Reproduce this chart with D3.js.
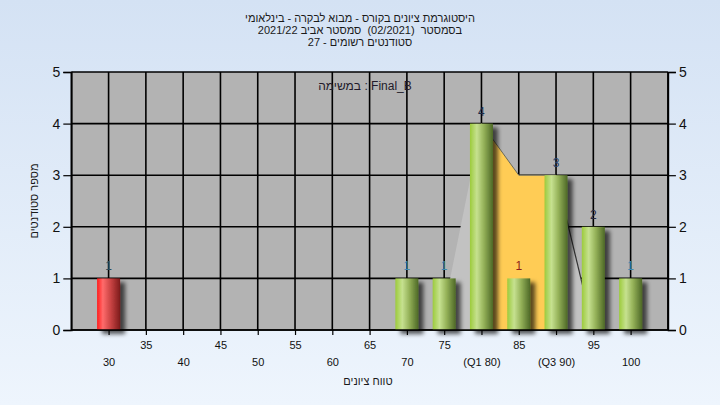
<!DOCTYPE html>
<html><head><meta charset="utf-8">
<script src="https://cdn.jsdelivr.net/npm/d3@7"></script>
<style>
html,body{margin:0;padding:0;overflow:hidden;}
svg text{font-family:"Liberation Sans","DejaVu Sans",Arial,sans-serif;white-space:pre;}
</style></head>
<body><svg id="c" width="720" height="405"></svg>
<script>
// ---- data ----
const titleLines = [
  "היסטוגרמת ציונים בקורס - מבוא לבקרה - בינלאומי",
  "בסמסטר  (02/2021)  סמסטר אביב 2021/22",
  "סטודנטים רשומים - 27"
];
const legendText = "במשימה : Final_B";
const yTitle = "מספר סטודנטים";
const xTitle = "טווח ציונים";
const categories = [30,35,40,45,50,55,60,65,70,75,80,85,90,95,100];
const counts     = [1, 0, 0, 0, 0, 0, 0, 0, 1, 1, 4, 1, 3, 2, 1];
const tickLabels = ["30","35","40","45","50","55","60","65","70","75","(Q1 80)","85","(Q3 90)","95","100"];
const yTicks = [0,1,2,3,4,5];
const iqrX = [80,85,90];
const iqrY = [4,3,3];
const rangeX = [74.4,80,85,90,95];
const rangeY = [0,4,3,3,0];
const failBelow = 55;

// ---- styles ----
const labelColor = {30:"#2c4a5a",70:"#3f88b0",75:"#3f88b0",80:"#1c2c48",85:"#8e1c1c",90:"#24406a",95:"#2a2a40",100:"#3f88b0"};

const svg = d3.select("#c");
const W = 720, H = 405;
const m = {l:71.3, r:720-667.9, t:72, b:405-330};
const defs = svg.append("defs");

const bg = defs.append("linearGradient").attr("id","bg").attr("x1",0).attr("y1",0).attr("x2",0).attr("y2",1);
bg.append("stop").attr("offset","0%").attr("stop-color","#d4e2f4");
bg.append("stop").attr("offset","100%").attr("stop-color","#eef5fd");

const gg = defs.append("linearGradient").attr("id","gGreen").attr("x1",0).attr("y1",0).attr("x2",1).attr("y2",0);
[["0%","#9ccb3c"],["30%","#c6e190"],["60%","#95b259"],["100%","#4d6826"]].forEach(s=>gg.append("stop").attr("offset",s[0]).attr("stop-color",s[1]));
const gr = defs.append("linearGradient").attr("id","gRed").attr("x1",0).attr("y1",0).attr("x2",1).attr("y2",0);
[["0%","#ff1c1c"],["25%","#ff6b6b"],["60%","#c84242"],["100%","#7c1c1c"]].forEach(s=>gr.append("stop").attr("offset",s[0]).attr("stop-color",s[1]));

const f = defs.append("filter").attr("id","sh").attr("x","-20%").attr("y","-20%").attr("width","160%").attr("height","140%");
f.append("feDropShadow").attr("dx",5).attr("dy",4).attr("stdDeviation",2).attr("flood-color","#000").attr("flood-opacity",0.65);

svg.append("rect").attr("width",W).attr("height",H).attr("fill","url(#bg)");

const x = d3.scaleLinear().domain([25,105]).range([m.l, W-m.r]);
const y = d3.scaleLinear().domain([0,5]).range([H-m.b, m.t]);

// plot background
svg.append("rect").attr("x",x(25)).attr("y",y(5)).attr("width",x(105)-x(25)).attr("height",y(0)-y(5)).attr("fill","#b3b3b3");

// grid
const grid = svg.append("g").attr("stroke","#000").attr("stroke-width",1.6);
grid.selectAll("line.h").data(yTicks).join("line").attr("x1",x(25)).attr("x2",x(105)).attr("y1",d=>y(d)).attr("y2",d=>y(d));
grid.selectAll("line.v").data(categories).join("line").attr("x1",d=>x(d)).attr("x2",d=>x(d)).attr("y1",y(5)).attr("y2",y(0));

// range area (light gray)
const rangePts = rangeX.map((v,i)=>[v,rangeY[i]]);
svg.append("path").datum(rangePts)
  .attr("d", d3.area().x(d=>x(d[0])).y0(y(0)).y1(d=>y(d[1])))
  .attr("fill","#c2c2c2");
svg.append("path").datum(rangePts.slice(3))
  .attr("d", d3.line().x(d=>x(d[0])).y(d=>y(d[1])))
  .attr("fill","none").attr("stroke","#333").attr("stroke-width",1.2);

// IQR area (yellow)
const iqrPts = iqrX.map((v,i)=>[v,iqrY[i]]);
svg.append("path").datum(iqrPts)
  .attr("d", d3.area().x(d=>x(d[0])).y0(y(0)).y1(d=>y(d[1])))
  .attr("fill","#ffcc55");
svg.append("path").datum(iqrPts)
  .attr("d", d3.line().x(d=>x(d[0])).y(d=>y(d[1])))
  .attr("fill","none").attr("stroke","#6a6a5a").attr("stroke-width",1);

// border lines on left/right
svg.append("line").attr("x1",x(25)).attr("x2",x(25)).attr("y1",y(5)).attr("y2",y(0)).attr("stroke","#000").attr("stroke-width",1.6);
svg.append("line").attr("x1",x(105)).attr("x2",x(105)).attr("y1",y(5)).attr("y2",y(0)).attr("stroke","#000").attr("stroke-width",1.6);

// bars
const bw = 23;
const barData = categories.map((c,i)=>({c, v:counts[i]})).filter(d=>d.v>0);
svg.append("g").attr("filter","url(#sh)").selectAll("rect").data(barData).join("rect")
  .attr("x",d=>x(d.c)-bw/2).attr("width",bw)
  .attr("y",d=>y(d.v)).attr("height",d=>y(0)-y(d.v))
  .attr("fill",d=>d.c<failBelow?"url(#gRed)":"url(#gGreen)");

// bar labels
svg.append("g").selectAll("text").data(barData).join("text")
  .attr("x",d=>x(d.c)).attr("y",d=>y(d.v)-8)
  .attr("text-anchor","middle").attr("font-size",12)
  .attr("fill",d=>labelColor[d.c]||"#222").text(d=>d.v);

// axes
const axL = svg.append("g").attr("transform",`translate(${x(25)},0)`)
  .call(d3.axisLeft(y).tickValues(yTicks).tickSize(8).tickPadding(3).tickFormat(d3.format("d")));
const axR = svg.append("g").attr("transform",`translate(${x(105)},0)`)
  .call(d3.axisRight(y).tickValues(yTicks).tickSize(8).tickPadding(3).tickFormat(d3.format("d")));
const axB = svg.append("g").attr("transform",`translate(0,${y(0)})`)
  .call(d3.axisBottom(x).tickValues(categories).tickSize(5).tickFormat((d,i)=>tickLabels[i]));
[axL,axR,axB].forEach(a=>{
  a.select(".domain").attr("stroke","#000").attr("stroke-width",1.6);
  a.selectAll(".tick line").attr("stroke","#000").attr("stroke-width",1.2);
  a.selectAll("text").attr("fill","#111").style("font-family","'Liberation Sans','DejaVu Sans',Arial,sans-serif");
});
axL.selectAll("text").attr("font-size",14);
axR.selectAll("text").attr("font-size",14);
axB.select(".domain").attr("d",`M${x(25)},0H${x(105)}`);
axB.selectAll(".tick text").attr("font-size",11)
  .attr("y",(d,i)=>i%2===1?11:28).attr("dy","0.71em");

// titles
svg.append("g").selectAll("text").data(titleLines).join("text")
  .attr("x",360).attr("y",(d,i)=>22+i*12).attr("text-anchor","middle")
  .attr("font-size",11).attr("fill","#1a1a1a").text(d=>d);
svg.append("text").attr("x",365).attr("y",90).attr("text-anchor","middle")
  .attr("font-size",12).attr("fill","#221a2a").text(legendText);
svg.append("text").attr("transform","translate(38,201) rotate(-90)").attr("text-anchor","middle")
  .attr("font-size",11).attr("fill","#1a1a1a").text(yTitle);
svg.append("text").attr("x",368).attr("y",385).attr("text-anchor","middle")
  .attr("font-size",11).attr("fill","#1a1a1a").text(xTitle);
</script></body></html>
